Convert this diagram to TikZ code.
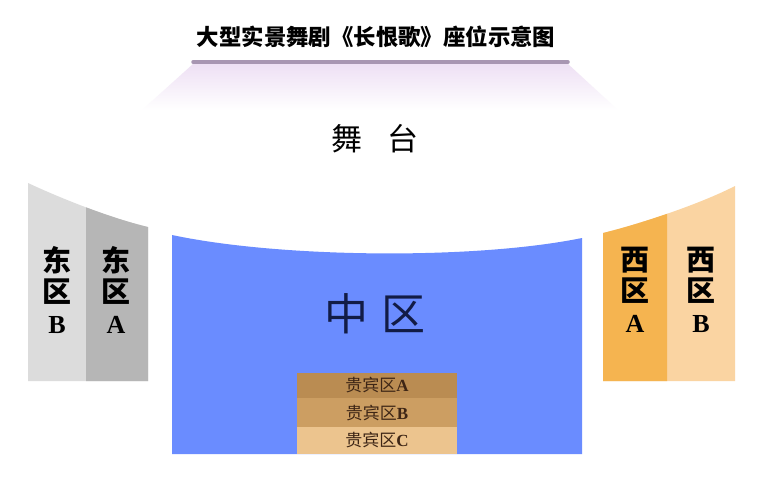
\documentclass[tikz,border=0pt]{standalone}
\usepackage{fontspec}
\setmainfont{Liberation Serif}
\newfontfamily\cjk{Noto Sans CJK SC}
\definecolor{midblue}{RGB}{106,140,255}
\definecolor{eastgrayA}{RGB}{182,182,182}
\definecolor{eastgrayB}{RGB}{220,220,220}
\definecolor{westorangeA}{RGB}{245,180,80}
\definecolor{westpeachB}{RGB}{250,212,162}
\definecolor{vipA}{RGB}{186,140,82}
\definecolor{vipB}{RGB}{204,158,98}
\definecolor{vipC}{RGB}{236,196,142}
\definecolor{stagebar}{RGB}{168,150,178}
\definecolor{stagemist}{RGB}{238,224,244}
\definecolor{navytext}{RGB}{18,28,70}
\definecolor{browntext}{RGB}{62,38,22}
\tikzset{
	zonelabel/.style={align=center, font=\fontsize{29}{31}\selectfont\bfseries, text=black},
	viplabel/.style={font=\fontsize{17}{17}\selectfont, text=browntext}
}
\begin{document}
\begin{tikzpicture}[x=1pt,y=-1pt]

				\useasboundingbox[fill=white] (0,0) rectangle (758,477);

				\node[font=\cjk\bfseries\fontsize{22.4}{22.4}\selectfont] (title) at (376,37) {大型实景舞剧《长恨歌》座位示意图};

				\shade[top color=stagemist, bottom color=white] (193,64) -- (568,64) -- (618,110) -- (142,110) -- cycle;
				\draw[stagebar, line width=3.5pt, line cap=round] (193,62) -- (568,62);
				\node[font=\cjk\fontsize{31}{31}\selectfont] (stage) at (375,139) {舞\hspace{0.78em}台};

				\fill[eastgrayB] (28,183) .. controls (60,198) and (110,218) .. (148,227) -- (148,381) -- (28,381) -- cycle;
				\begin{scope}
					\clip (86,0) rectangle (148,477);
					\fill[eastgrayA] (28,183) .. controls (60,198) and (110,218) .. (148,227) -- (148,381) -- (28,381) -- cycle;
				\end{scope}

				\fill[westpeachB] (603,233) .. controls (640,224) and (700,204) .. (735,186) -- (735,381) -- (603,381) -- cycle;
				\begin{scope}
					\clip (603,0) rectangle (667,477);
					\fill[westorangeA] (603,233) .. controls (640,224) and (700,204) .. (735,186) -- (735,381) -- (603,381) -- cycle;
				\end{scope}

				\fill[midblue] (172,235) .. controls (280,258) and (474,260) .. (582,238) -- (582,454) -- (172,454) -- cycle;
				\fill[vipA] (297,373) rectangle (457,398);
				\fill[vipB] (297,398) rectangle (457,427);
				\fill[vipC] (297,427) rectangle (457,454);

				\node[zonelabel] (eastB) at (57,290) {{\cjk 东}\\{\cjk 区}\\{\fontsize{26}{26}\selectfont B}};
				\node[zonelabel] (eastA) at (116,290) {{\cjk 东}\\{\cjk 区}\\{\fontsize{26}{26}\selectfont A}};
				\node[zonelabel] (westA) at (635,290) {{\cjk 西}\\{\cjk 区}\\{\fontsize{26}{26}\selectfont A}};
				\node[zonelabel] (westB) at (701,290) {{\cjk 西}\\{\cjk 区}\\{\fontsize{26}{26}\selectfont B}};

				\node[font=\cjk\fontsize{44}{44}\selectfont, text=navytext] (middle) at (375,314) {中\hspace{0.3em}区};

				\node[viplabel] (vipzoneA) at (377,385) {{\cjk 贵宾区}\textbf{A}};
				\node[viplabel] (vipzoneB) at (377,413) {{\cjk 贵宾区}\textbf{B}};
				\node[viplabel] (vipzoneC) at (377,440) {{\cjk 贵宾区}\textbf{C}};

\end{tikzpicture}
\end{document}
